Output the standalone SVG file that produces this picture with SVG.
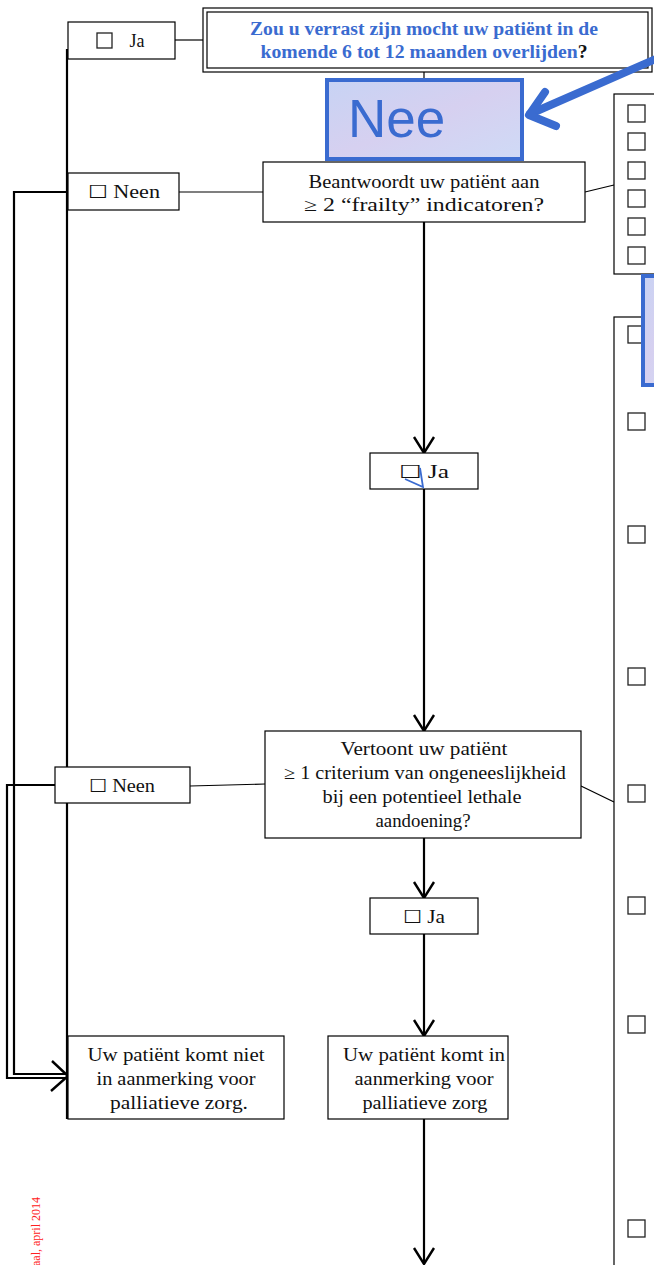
<svg xmlns="http://www.w3.org/2000/svg" width="654" height="1265" viewBox="0 0 654 1265">
<style>
.box{fill:#fff;stroke:#000;stroke-width:1.2}
.t{font-family:"Liberation Serif","Times New Roman",serif;font-size:18px;fill:#111;text-anchor:middle}
.q{font-family:"Liberation Serif","Times New Roman",serif;font-size:18px;font-weight:bold;fill:#3a6bd0;text-anchor:middle}
.ln{fill:none;stroke:#000;stroke-width:2.2}
.thin{fill:none;stroke:#000;stroke-width:1.2}
.cb{fill:#fff;stroke:#222;stroke-width:1.3}
.blue{fill:url(#tex);stroke:#3a6bd0;stroke-width:4}
.barrow{fill:none;stroke:#3a6bd0;stroke-width:8;stroke-linecap:round;stroke-linejoin:round}
</style>
<defs>
<linearGradient id="tex" x1="0" y1="0" x2="1" y2="1">
<stop offset="0" stop-color="#c7d3f4"/>
<stop offset="0.5" stop-color="#d6d0f0"/>
<stop offset="1" stop-color="#cfdaf6"/>
</linearGradient>
<marker id="ah" viewBox="0 0 20 24" refX="18" refY="12" markerWidth="20" markerHeight="24" markerUnits="userSpaceOnUse" orient="auto">
<path d="M2,2 L18,12 L2,22" fill="none" stroke="#000" stroke-width="2.4"/>
</marker>
</defs>

<g id="connectors">
<line class="ln" x1="67" y1="49" x2="67" y2="1119"/>
<line class="thin" x1="175" y1="40" x2="205" y2="40"/>
<line class="thin" x1="424" y1="72" x2="424" y2="79"/>
<line class="thin" x1="179" y1="192" x2="263" y2="192"/>
<line class="thin" x1="585" y1="192" x2="614" y2="185"/>
<line class="thin" x1="190" y1="786" x2="265" y2="784"/>
<line class="thin" x1="581" y1="786" x2="614" y2="802"/>
<path class="ln" d="M68,192 H14 V1074 H68"/>
<path class="ln" d="M55,785 H7 V1078 H68"/>
<path d="M52,1061 L68,1076 L51,1091" fill="none" stroke="#000" stroke-width="2.4"/>
<line class="ln" x1="424" y1="222" x2="424" y2="453" marker-end="url(#ah)"/>
<line class="ln" x1="424" y1="489" x2="424" y2="731" marker-end="url(#ah)"/>
<line class="ln" x1="424" y1="838" x2="424" y2="898" marker-end="url(#ah)"/>
<line class="ln" x1="424" y1="934" x2="424" y2="1036" marker-end="url(#ah)"/>
<line class="ln" x1="424" y1="1119" x2="424" y2="1264" marker-end="url(#ah)"/>
</g>

<g id="ja-top">
<rect class="box" x="68" y="22" width="107" height="37"/>
<rect class="cb" x="97" y="33" width="15" height="15"/>
<text class="t" x="137" y="47">Ja</text>
</g>

<g id="question">
<rect x="203" y="8" width="449" height="64" fill="#fff" stroke="#000" stroke-width="1.2"/>
<rect x="207" y="12" width="441" height="56" fill="none" stroke="#000" stroke-width="1.2"/>
<text class="q" x="424" y="35" textLength="348" lengthAdjust="spacingAndGlyphs">Zou u verrast zijn mocht uw patiënt in de</text>
<text class="q" x="424" y="58" textLength="327" lengthAdjust="spacingAndGlyphs">komende 6 tot 12 maanden overlijden<tspan fill="#111">?</tspan></text>
</g>

<g id="nee">
<rect class="blue" x="327" y="80" width="195" height="79"/>
<text x="348" y="137" font-family="'Liberation Sans',Arial,sans-serif" font-size="53" fill="#3a6bd0">Nee</text>
</g>

<g id="blue-arrow">
<path class="barrow" d="M658,58 L530,114"/>
<path class="barrow" d="M545,92 L529,115 L556,126"/>
</g>

<g id="panel1">
<rect class="box" x="614" y="94" width="45" height="180"/>
<rect class="cb" x="628" y="105" width="17" height="17"/>
<rect class="cb" x="628" y="133" width="17" height="17"/>
<rect class="cb" x="628" y="162" width="17" height="17"/>
<rect class="cb" x="628" y="190" width="17" height="17"/>
<rect class="cb" x="628" y="218" width="17" height="17"/>
<rect class="cb" x="628" y="247" width="17" height="17"/>
</g>

<g id="panel2">
<rect class="box" x="614" y="317" width="45" height="960"/>
<rect class="cb" x="628" y="326" width="17" height="17"/>
<rect class="cb" x="628" y="413" width="17" height="17"/>
<rect class="cb" x="628" y="526" width="17" height="17"/>
<rect class="cb" x="628" y="668" width="17" height="17"/>
<rect class="cb" x="628" y="785" width="17" height="17"/>
<rect class="cb" x="628" y="897" width="17" height="17"/>
<rect class="cb" x="628" y="1016" width="17" height="17"/>
<rect class="cb" x="628" y="1220" width="17" height="17"/>
</g>

<g id="nee-right">
<rect class="blue" x="643" y="276" width="30" height="109"/>
</g>

<g id="neen1">
<rect class="box" x="68" y="173" width="111" height="37"/>
<text class="t" x="124" y="198" textLength="72" lengthAdjust="spacingAndGlyphs">☐  Neen</text>
</g>

<g id="frailty">
<rect class="box" x="263" y="162" width="322" height="60"/>
<text class="t" x="424" y="188" textLength="231" lengthAdjust="spacingAndGlyphs">Beantwoordt uw patiënt aan</text>
<text class="t" x="424" y="211" textLength="240" lengthAdjust="spacingAndGlyphs">≥  2  “frailty” indicatoren?</text>
</g>

<g id="ja2">
<rect class="box" x="370" y="453" width="108" height="36"/>
<text class="t" x="424" y="478" textLength="50" lengthAdjust="spacingAndGlyphs">☐  Ja</text>
<path d="M405,479 L423,487 L420,468" fill="none" stroke="#3a6bd0" stroke-width="1.8"/>
</g>

<g id="criterium">
<rect class="box" x="265" y="731" width="316" height="107"/>
<text class="t" x="424" y="755" textLength="167" lengthAdjust="spacingAndGlyphs">Vertoont uw patiënt</text>
<text class="t" x="425" y="779" textLength="282" lengthAdjust="spacingAndGlyphs">≥ 1 criterium van ongeneeslijkheid</text>
<text class="t" x="422" y="803" textLength="199" lengthAdjust="spacingAndGlyphs">bij een potentieel lethale</text>
<text class="t" x="423" y="827" textLength="95" lengthAdjust="spacingAndGlyphs">aandoening?</text>
</g>

<g id="neen2">
<rect class="box" x="55" y="767" width="135" height="36"/>
<text class="t" x="122" y="792" textLength="66" lengthAdjust="spacingAndGlyphs">☐ Neen</text>
</g>

<g id="ja3">
<rect class="box" x="370" y="898" width="108" height="36"/>
<text class="t" x="424" y="923" textLength="42" lengthAdjust="spacingAndGlyphs">☐ Ja</text>
</g>

<g id="niet">
<rect class="box" x="68" y="1036" width="216" height="83"/>
<text class="t" x="176" y="1061" textLength="177" lengthAdjust="spacingAndGlyphs">Uw patiënt komt niet</text>
<text class="t" x="176" y="1085" textLength="159" lengthAdjust="spacingAndGlyphs">in aanmerking voor</text>
<text class="t" x="179" y="1109" textLength="138" lengthAdjust="spacingAndGlyphs">palliatieve zorg.</text>
</g>

<g id="wel">
<rect class="box" x="328" y="1036" width="180" height="83"/>
<text class="t" x="424" y="1061" textLength="162" lengthAdjust="spacingAndGlyphs">Uw patiënt komt in</text>
<text class="t" x="424" y="1085" textLength="139" lengthAdjust="spacingAndGlyphs">aanmerking voor</text>
<text class="t" x="425" y="1109" textLength="125" lengthAdjust="spacingAndGlyphs">palliatieve zorg</text>
</g>

<text x="0" y="0" transform="translate(40,1266) rotate(-90)" font-family="'Liberation Serif',serif" font-size="12" fill="#ff2020">aal, april 2014</text>
</svg>
